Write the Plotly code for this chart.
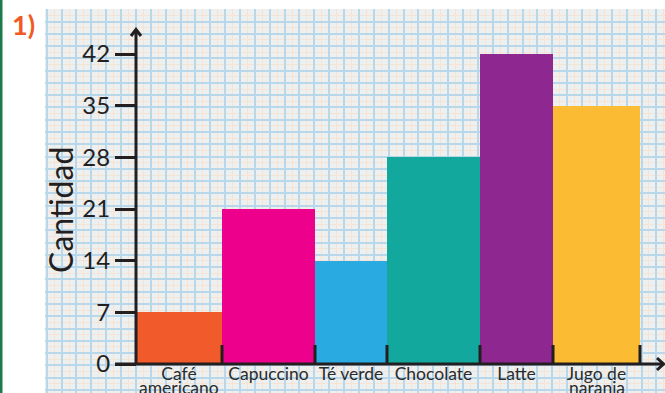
import numpy as np
import plotly.graph_objects as go

# ---------------- data ----------------
categories = ["Café<br>americano", "Capuccino", "Té verde", "Chocolate", "Latte", "Jugo de<br>naranja"]
values = [7, 21, 14, 28, 42, 35]
y_tick_values = [0, 7, 14, 21, 28, 35, 42]
y_tick_labels = ["0", "7", "14", "21", "28", "35", "42"]

# ---------------- style ----------------
bar_colors = ["#f15a2b", "#ec008c", "#29abe2", "#13a89e", "#8e278f", "#fbbb33"]
bar_widths = [86, 93, 72, 93, 73, 87]
INK = "#231f20"
LABEL_INK = "#2b2b2b"
FONT = "Lato"

W, H = 665, 393
L, T = 45, 9
PW, PH = W - L, H - T
X0_PX, Y0_PX = 136, 364          # pixel position of the axis origin
PX_PER_UNIT = 310 / 42           # vertical pixels per data unit


def px_x(px):
    return px - X0_PX


def px_y(py):
    return (Y0_PX - py) / PX_PER_UNIT


def paper_x(px):
    return (px - L) / PW


def paper_y(py):
    return (H - py) / PH


edges = np.concatenate([[0], np.cumsum(bar_widths)])
centers = (edges[:-1] + edges[1:]) / 2
first_lines = [c.split("<br>")[0] for c in categories]
second_lines = [c.split("<br>")[1] if "<br>" in c else "" for c in categories]

fig = go.Figure()
fig.add_trace(go.Bar(
    x=centers, y=values, width=bar_widths,
    marker=dict(color=bar_colors, line=dict(width=0)),
    hoverinfo="skip", showlegend=False,
))
# dummy trace to activate the grid overlay axes
fig.add_trace(go.Scatter(x=[None], y=[None], xaxis="x2", yaxis="y2",
                         showlegend=False, hoverinfo="skip"))

shapes = []
# y axis line
shapes.append(dict(type="line", xref="x", yref="y", x0=0, x1=0, y0=0, y1=px_y(30),
                   line=dict(color=INK, width=3)))
# x axis line
shapes.append(dict(type="line", xref="x", yref="y", x0=px_x(115), x1=px_x(663), y0=0, y1=0,
                   line=dict(color=INK, width=3)))
# arrow heads
shapes.append(dict(type="path", xref="x", yref="y",
                   path=f"M {px_x(131)},{px_y(36)} L {px_x(136)},{px_y(29.5)} L {px_x(141)},{px_y(36)}",
                   line=dict(color=INK, width=3)))
shapes.append(dict(type="path", xref="x", yref="y",
                   path=f"M {px_x(657)},{px_y(358)} L {px_x(663.5)},{px_y(364)} L {px_x(657)},{px_y(370)}",
                   line=dict(color=INK, width=3)))
# boundary ticks between bars
for e in edges[1:]:
    shapes.append(dict(type="line", xref="x", yref="y", x0=e, x1=e, y0=0, y1=19 / PX_PER_UNIT,
                       line=dict(color=INK, width=3)))
# green left strip
shapes.append(dict(type="rect", xref="paper", yref="paper", x0=paper_x(0), x1=paper_x(2.5),
                   y0=paper_y(H), y1=paper_y(0), fillcolor="#1d7a4b", line=dict(width=0)))

annotations = [
    dict(text="1)", xref="paper", yref="paper", x=paper_x(23), y=paper_y(24),
         showarrow=False, font=dict(family=FONT, size=27, color="#f15a24", weight="bold"),
         xanchor="center", yanchor="middle"),
    dict(text="Cantidad", xref="paper", yref="paper", x=paper_x(60), y=paper_y(210),
         showarrow=False, textangle=-90, font=dict(family=FONT, size=32, color=INK),
         xanchor="center", yanchor="middle"),
]
# second lines of the two-line category labels (tight line spacing, as in the source)
for cx, txt in zip(centers, second_lines):
    if txt:
        annotations.append(dict(text=txt, xref="x", yref="y", x=cx, y=px_y(387.5),
                                showarrow=False, xanchor="center", yanchor="middle",
                                font=dict(family=FONT, size=17.5, color=LABEL_INK)))

grid_blue = "#b9d7ea"
grid_orange = "#f5e4d5"

fig.update_layout(
    template="none",
    width=W, height=H, autosize=False,
    margin=dict(l=L, r=0, t=T, b=0, pad=0, autoexpand=False),
    paper_bgcolor="white", plot_bgcolor="#eef0f0",
    bargap=0, showlegend=False,
    font=dict(family=FONT, color=INK),
    xaxis=dict(range=[px_x(L), px_x(W)], anchor="free", position=paper_y(Y0_PX - 3),
               tickvals=centers, ticktext=first_lines, ticks="", automargin=False,
               tickfont=dict(family=FONT, size=17.5, color=LABEL_INK),
               showgrid=False, zeroline=False, showline=False, fixedrange=True),
    yaxis=dict(range=[px_y(H), px_y(T)], anchor="free", position=paper_x(X0_PX),
               tickvals=y_tick_values, ticktext=y_tick_labels, automargin=False,
               ticks="outside", ticklen=21, tickwidth=3, tickcolor=INK,
               tickfont=dict(family=FONT, size=24, color=INK),
               showgrid=False, zeroline=False, showline=False, fixedrange=True),
    xaxis2=dict(overlaying="x", range=[L, W], tick0=46.7, dtick=14.87, automargin=False,
                showgrid=True, gridcolor=grid_blue, gridwidth=2,
                minor=dict(tick0=46.7, dtick=14.87 / 2, showgrid=True, gridcolor=grid_orange, gridwidth=1),
                showticklabels=False, ticks="", zeroline=False, showline=False, side="top",
                fixedrange=True),
    yaxis2=dict(overlaying="y", range=[0, PH], tick0=3.1, dtick=12.28, automargin=False,
                showgrid=True, gridcolor=grid_blue, gridwidth=2,
                minor=dict(tick0=3.1, dtick=12.28 / 2, showgrid=True, gridcolor=grid_orange, gridwidth=1),
                showticklabels=False, ticks="", zeroline=False, showline=False, side="right",
                fixedrange=True),
    shapes=shapes,
    annotations=annotations,
)

fig.write_html(
    "out.html",
    config={"displayModeBar": False, "staticPlot": True},
    post_script="document.body.style.margin='0px';document.body.style.overflow='hidden';",
)
